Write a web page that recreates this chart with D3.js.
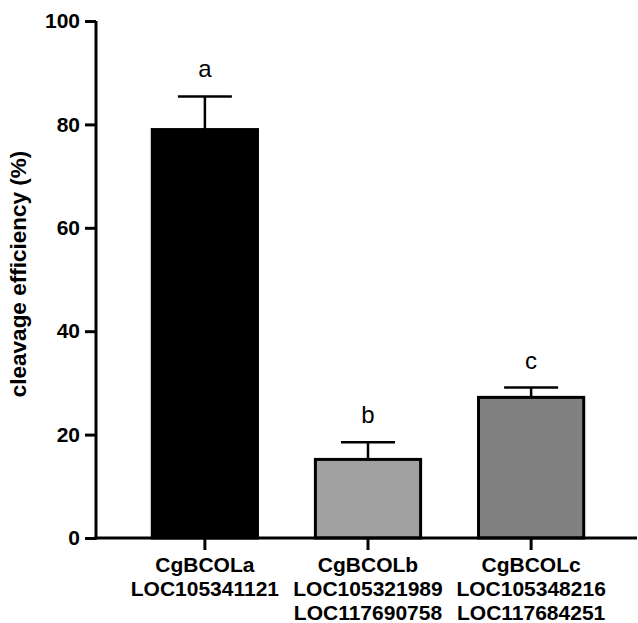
<!DOCTYPE html>
<html>
<head>
<meta charset="utf-8">
<script src="https://cdn.jsdelivr.net/npm/d3@7"></script>
<style>
    body { margin: 0; background: #fff; }
    svg { display: block; }
</style>
</head>
<body>
<div class="canvas"></div>
<script>
// data
const categories = ['CgBCOLa', 'CgBCOLb', 'CgBCOLc']
const subLabels = [
    ['LOC105341121'],
    ['LOC105321989', 'LOC117690758'],
    ['LOC105348216', 'LOC117684251']
]
const means = [79.0, 15.2, 27.2]
const errors = [6.4, 3.3, 1.9]
const letters = ['a', 'b', 'c']
const fills = ['#000000', '#a0a0a0', '#808080']
const yTicks = [0, 20, 40, 60, 80, 100]

const width = 638
const height = 623

const svg = d3.select('.canvas')
    .append('svg')
    .attr('width', width)
    .attr('height', height)
    .style('font-family', 'Liberation Sans, Arial, sans-serif')

// scales
const y = d3.scaleLinear()
    .domain([0, 100])
    .range([538, 21])

const x = d3.scaleBand()
    .domain(categories)
    .range([96, 640])
    .paddingInner(0.355)
    .paddingOuter(0.345)

// bars
svg.selectAll('rect.bar')
    .data(categories)
    .enter()
    .append('rect')
    .attr('class', 'bar')
    .attr('x', d => x(d))
    .attr('width', x.bandwidth())
    .attr('y', (d, i) => y(means[i]))
    .attr('height', (d, i) => y(0) - y(means[i]))
    .attr('fill', (d, i) => fills[i])
    .attr('stroke', '#000')
    .attr('stroke-width', 3)

// error bars (upper only)
const cx = d => x(d) + x.bandwidth() / 2
const capHalf = 27

svg.selectAll('line.err')
    .data(categories)
    .enter()
    .append('line')
    .attr('x1', cx).attr('x2', cx)
    .attr('y1', (d, i) => y(means[i]))
    .attr('y2', (d, i) => y(means[i] + errors[i]))
    .attr('stroke', '#000')
    .attr('stroke-width', 2.5)

svg.selectAll('line.cap')
    .data(categories)
    .enter()
    .append('line')
    .attr('x1', d => cx(d) - capHalf)
    .attr('x2', d => cx(d) + capHalf)
    .attr('y1', (d, i) => y(means[i] + errors[i]))
    .attr('y2', (d, i) => y(means[i] + errors[i]))
    .attr('stroke', '#000')
    .attr('stroke-width', 2.5)

// significance letters
svg.selectAll('text.sig')
    .data(categories)
    .enter()
    .append('text')
    .attr('x', cx)
    .attr('y', (d, i) => y(means[i] + errors[i]) - 19)
    .attr('text-anchor', 'middle')
    .attr('font-size', 24)
    .text((d, i) => letters[i])

// y axis
const yAxis = d3.axisLeft(y)
    .tickValues(yTicks)
    .tickSize(11)
    .tickPadding(5)
    .tickSizeOuter(0)

const yAxisGroup = svg.append('g')
    .attr('transform', 'translate(96, 0)')
    .call(yAxis)

yAxisGroup.select('.domain')
    .attr('stroke-width', 3)
    .attr('d', `M0,${y(100)}V${y(0) + 1.5}`)
yAxisGroup.selectAll('.tick line').attr('stroke-width', 3)
yAxisGroup.selectAll('.tick text')
    .attr('font-size', 21)
    .attr('font-weight', 'bold')
    .attr('font-family', 'Liberation Sans, Arial, sans-serif')
    .attr('fill', '#000')

// x axis
const xAxis = d3.axisBottom(x)
    .tickSize(12)
    .tickSizeOuter(0)
    .tickFormat('')

const xAxisGroup = svg.append('g')
    .attr('transform', `translate(0, ${y(0)})`)
    .call(xAxis)

xAxisGroup.select('.domain')
    .attr('stroke-width', 3)
    .attr('d', 'M94.5,0H637')
xAxisGroup.selectAll('.tick line').attr('stroke-width', 3)

// category labels, multi-line
const labelGroups = svg.selectAll('text.cat')
    .data(categories)
    .enter()
    .append('text')
    .attr('text-anchor', 'middle')
    .attr('font-size', 21)
    .attr('font-weight', 'bold')

labelGroups.each(function (d, i) {
    const lines = [d].concat(subLabels[i])
    d3.select(this).selectAll('tspan')
        .data(lines)
        .enter()
        .append('tspan')
        .attr('x', cx(d))
        .attr('y', (l, j) => 572 + j * 24)
        .text(l => l)
})

// y axis title
svg.append('text')
    .attr('transform', 'translate(26, 274) rotate(-90)')
    .attr('text-anchor', 'middle')
    .attr('font-size', 22.5)
    .attr('font-weight', 'bold')
    .text('cleavage efficiency (%)')
</script>
</body>
</html>
